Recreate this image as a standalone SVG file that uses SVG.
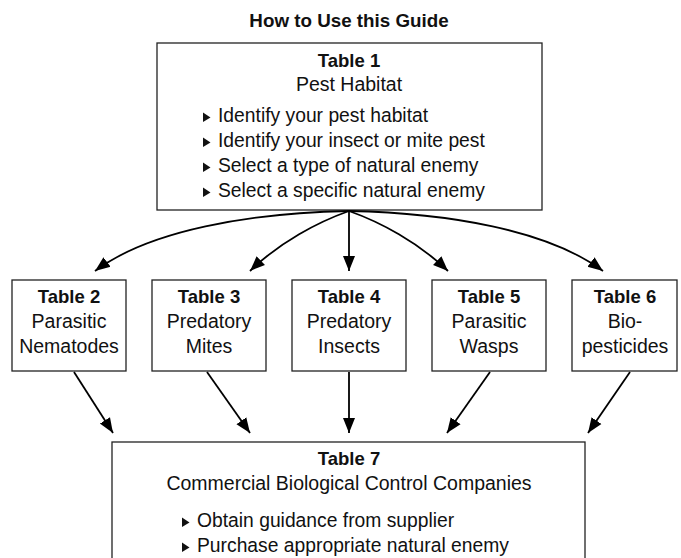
<svg xmlns="http://www.w3.org/2000/svg" width="681" height="558" viewBox="0 0 681 558">
<defs>
<style>
text{font-family:"Liberation Sans",Arial,sans-serif;fill:#111;}
.t{font-size:19.5px;text-anchor:middle;}
.b{font-weight:bold;font-size:18.5px;text-anchor:middle;}
.l{font-size:19.3px;}
.box{fill:#fff;stroke:#222;stroke-width:1.3;}
.c{fill:none;stroke:#000;stroke-width:1.8;marker-end:url(#ah);}
.bul{fill:#111;}
</style>
<marker id="ah" markerUnits="userSpaceOnUse" markerWidth="16" markerHeight="14" viewBox="0 0 16 14" refX="15" refY="7" orient="auto">
<path d="M0,1 L15,7 L0,13 Z" fill="#000"/>
</marker>
</defs>
<rect width="681" height="558" fill="#fff"/>
<text x="349" y="27" class="b" style="font-size:18.8px">How to Use this Guide</text>

<g id="table1">
<rect class="box" x="157" y="43" width="385" height="167"/>
<text x="349" y="67" class="b">Table 1</text>
<text x="349" y="91" class="t">Pest Habitat</text>
<polygon class="bul" points="203,112.5 210.5,117.5 203,122"/>
<text x="218" y="122" class="l">Identify your pest habitat</text>
<polygon class="bul" points="203,137.5 210.5,142.5 203,147"/>
<text x="218" y="147" class="l">Identify your insect or mite pest</text>
<polygon class="bul" points="203,162.5 210.5,167.5 203,172"/>
<text x="218" y="172" class="l">Select a type of natural enemy</text>
<polygon class="bul" points="203,187.5 210.5,192.5 203,197"/>
<text x="218" y="197" class="l">Select a specific natural enemy</text>
</g>

<g id="table2">
<rect class="box" x="12" y="280" width="114" height="91"/>
<text x="69" y="303" class="b">Table 2</text>
<text x="69" y="328" class="t">Parasitic</text>
<text x="69" y="353" class="t">Nematodes</text>
</g>
<g id="table3">
<rect class="box" x="152" y="280" width="114" height="91"/>
<text x="209" y="303" class="b">Table 3</text>
<text x="209" y="328" class="t">Predatory</text>
<text x="209" y="353" class="t">Mites</text>
</g>
<g id="table4">
<rect class="box" x="292" y="280" width="114" height="91"/>
<text x="349" y="303" class="b">Table 4</text>
<text x="349" y="328" class="t">Predatory</text>
<text x="349" y="353" class="t">Insects</text>
</g>
<g id="table5">
<rect class="box" x="432" y="280" width="114" height="91"/>
<text x="489" y="303" class="b">Table 5</text>
<text x="489" y="328" class="t">Parasitic</text>
<text x="489" y="353" class="t">Wasps</text>
</g>
<g id="table6">
<rect class="box" x="572" y="280" width="105" height="91"/>
<text x="625" y="303" class="b">Table 6</text>
<text x="625" y="328" class="t">Bio-</text>
<text x="625" y="353" class="t">pesticides</text>
</g>

<g id="table7">
<rect class="box" x="112" y="442" width="473" height="130"/>
<text x="349" y="465" class="b">Table 7</text>
<text x="349" y="490" class="t">Commercial Biological Control Companies</text>
<polygon class="bul" points="182,517.5 189.5,522.5 182,527"/>
<text x="197" y="527" class="l">Obtain guidance from supplier</text>
<polygon class="bul" points="182,542.5 189.5,547.5 182,552"/>
<text x="197" y="552" class="l">Purchase appropriate natural enemy</text>
</g>

<g id="connectors">
<path class="c" d="M349,211 C250,213 150,230 95,271"/>
<path class="c" d="M349,211 C318,222 280,242 250,271"/>
<path class="c" d="M349,211 L349,271"/>
<path class="c" d="M349,211 C380,222 418,242 448,271"/>
<path class="c" d="M349,211 C448,213 548,230 603,271"/>
<path class="c" d="M74,372 L113,433"/>
<path class="c" d="M207,372 L250,433"/>
<path class="c" d="M349,372 L349,433"/>
<path class="c" d="M490,372 L447,433"/>
<path class="c" d="M630,372 L588,433"/>
</g>
</svg>
